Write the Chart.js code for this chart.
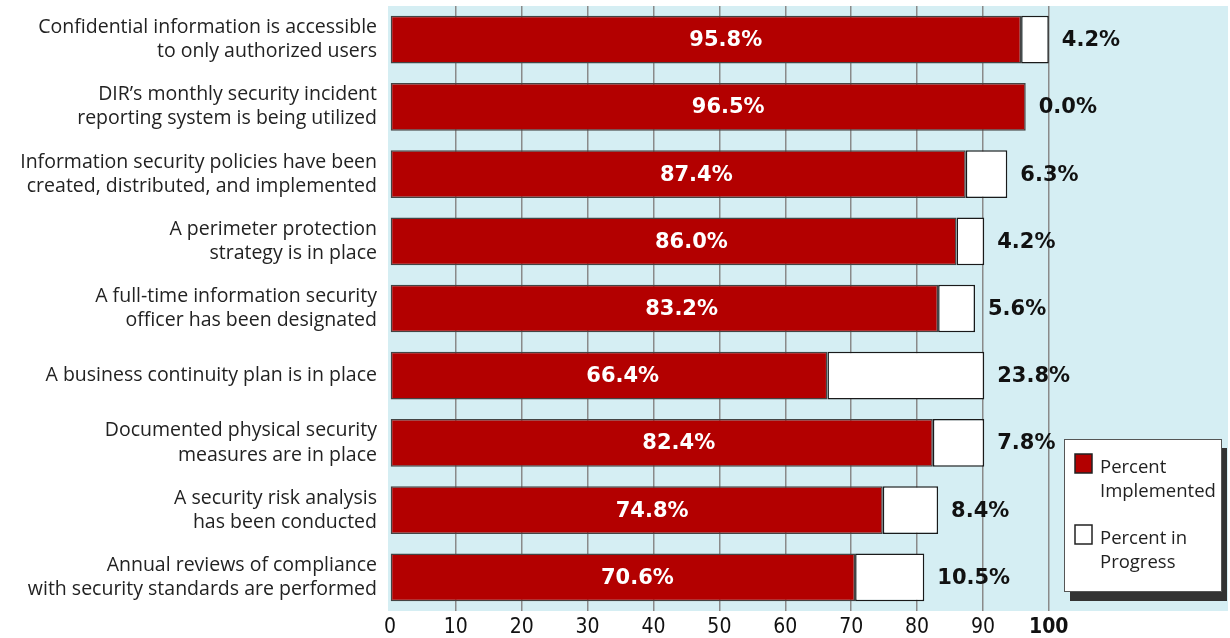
<!DOCTYPE html>
<html>
<head>
<meta charset="utf-8">
<script src="https://cdn.jsdelivr.net/npm/chart.js@4"></script>
<style>
  html, body { margin: 0; padding: 0; background: #fff; }
  #wrap { width: 1230px; height: 638px; position: relative; }
</style>
</head>
<body>
<div id="wrap"><canvas id="chart"></canvas></div>
<script>
const categories = [
    ['Confidential information is accessible', 'to only authorized users'],
    ['DIR\u2019s monthly security incident', 'reporting system is being utilized'],
    ['Information security policies have been', 'created, distributed, and implemented'],
    ['A perimeter protection', 'strategy is in place'],
    ['A full-time information security', 'officer has been designated'],
    ['A business continuity plan is in place'],
    ['Documented physical security', 'measures are in place'],
    ['A security risk analysis', 'has been conducted'],
    ['Annual reviews of compliance', 'with security standards are performed']
];
const implemented = [95.8, 96.5, 87.4, 86.0, 83.2, 66.4, 82.4, 74.8, 70.6];
const inProgress = [4.2, 0.0, 6.3, 4.2, 5.6, 23.8, 7.8, 8.4, 10.5];
const seriesNames = ['Percent Implemented', 'Percent in Progress'];
const xTicks = [0, 10, 20, 30, 40, 50, 60, 70, 80, 90, 100];

const labelFont = '"Open Sans", "Noto Sans", sans-serif';
const valueFont = '"DejaVu Sans", sans-serif';

// light blue plot background
const plotBg = {
    id: 'plotBg',
    beforeDraw(chart) {
        const {ctx, chartArea: a} = chart;
        ctx.save();
        ctx.fillStyle = '#d5eef3';
        ctx.fillRect(a.left, a.top, a.right - a.left, a.bottom - a.top);
        ctx.restore();
    }
};

// percent labels on / after the bars
const valueLabels = {
    id: 'valueLabels',
    afterDatasetsDraw(chart) {
        const ctx = chart.ctx;
        const x = chart.scales.x;
        const m0 = chart.getDatasetMeta(0);
        ctx.save();
        ctx.font = 'bold 21px ' + valueFont;
        ctx.textBaseline = 'middle';
        m0.data.forEach((bar, i) => {
            ctx.fillStyle = '#ffffff';
            ctx.textAlign = 'center';
            ctx.fillText(implemented[i].toFixed(1) + '%', x.getPixelForValue(implemented[i] * 0.532), bar.y + 1);
            ctx.fillStyle = '#111111';
            ctx.textAlign = 'left';
            ctx.fillText(inProgress[i].toFixed(1) + '%', x.getPixelForValue(implemented[i] + inProgress[i]) + 13, bar.y + 1);
        });
        ctx.restore();
    }
};

// boxed legend with drop shadow, bottom right of the plot
const boxLegend = {
    id: 'boxLegend',
    afterDraw(chart) {
        const {ctx, chartArea: a} = chart;
        const w = 158, h = 153;
        const left = a.right - 164, top = a.bottom - 172;
        ctx.save();
        ctx.fillStyle = '#333333';
        ctx.fillRect(left + 6, top + 9, w - 1, h);
        ctx.fillStyle = '#ffffff';
        ctx.fillRect(left, top, w, h);
        ctx.strokeStyle = '#555555';
        ctx.lineWidth = 1;
        ctx.strokeRect(left + 0.5, top + 0.5, w - 1, h - 1);
        ctx.font = '18.5px ' + labelFont;
        ctx.textBaseline = 'alphabetic';
        ctx.textAlign = 'left';
        chart.data.datasets.forEach((ds, i) => {
            const y0 = top + 15 + i * 71;
            ctx.fillStyle = ds.backgroundColor;
            ctx.fillRect(left + 11, y0, 17, 19);
            ctx.strokeStyle = '#222222';
            ctx.lineWidth = 1.5;
            ctx.strokeRect(left + 11, y0, 17, 19);
            // simple word wrap
            const words = ds.label.split(' ');
            const lines = [];
            let cur = '';
            words.forEach(wd => {
                const t = cur ? cur + ' ' + wd : wd;
                if (cur && ctx.measureText(t).width > 112) { lines.push(cur); cur = wd; }
                else cur = t;
            });
            lines.push(cur);
            ctx.fillStyle = '#222222';
            lines.forEach((ln, k) => ctx.fillText(ln, left + 36, y0 + 19 + k * 24));
        });
        ctx.restore();
    }
};

new Chart(document.getElementById('chart'), {
    type: 'bar',
    data: {
        labels: categories,
        datasets: [{
            label: seriesNames[0],
            data: implemented,
            backgroundColor: '#b30000',
            borderColor: '#444444',
            borderWidth: 1.5,
            borderSkipped: false,
            barPercentage: 0.71,
            categoryPercentage: 1
        }, {
            label: seriesNames[1],
            data: inProgress,
            backgroundColor: '#ffffff',
            borderColor: '#1a1a1a',
            borderWidth: (c) => c.raw === 0 ? 0 : 1.5,
            borderSkipped: false,
            barPercentage: 0.71,
            categoryPercentage: 1
        }]
    },
    options: {
        indexAxis: 'y',
        responsive: true,
        maintainAspectRatio: false,
        animation: false,
        layout: {
            padding: { top: 6, right: 2, bottom: 0, left: 0 }
        },
        scales: {
            x: {
                stacked: true,
                min: -0.3,
                max: 127.2,
                afterBuildTicks: (s) => { s.ticks = xTicks.map(v => ({ value: v })); },
                afterFit: (s) => { s.height = 27; s.paddingLeft = 0; s.paddingRight = 0; },
                border: { display: false },
                grid: {
                    drawTicks: false,
                    lineWidth: 1.5,
                    color: (c) => c.tick && c.tick.value === 0 ? 'rgba(0,0,0,0)' : '#8a8a8a'
                },
                ticks: {
                    padding: 4,
                    color: '#111111',
                    maxRotation: 0,
                    font: (c) => ({
                        family: '"Liberation Sans Narrow", "DejaVu Sans Condensed", sans-serif',
                        size: 21,
                        weight: c.tick && c.tick.value === 100 ? 'bold' : 'normal'
                    })
                }
            },
            y: {
                stacked: true,
                afterFit: (s) => { s.width = 388; s.paddingTop = 0; s.paddingBottom = 0; },
                border: { display: false },
                grid: { display: false, drawTicks: false },
                ticks: {
                    padding: 11,
                    color: '#222222',
                    font: { family: labelFont, size: 19.5, lineHeight: 1.24 }
                }
            }
        },
        plugins: {
            legend: { display: false },
            tooltip: { enabled: false }
        }
    },
    plugins: [plotBg, valueLabels, boxLegend]
});
</script>
</body>
</html>
